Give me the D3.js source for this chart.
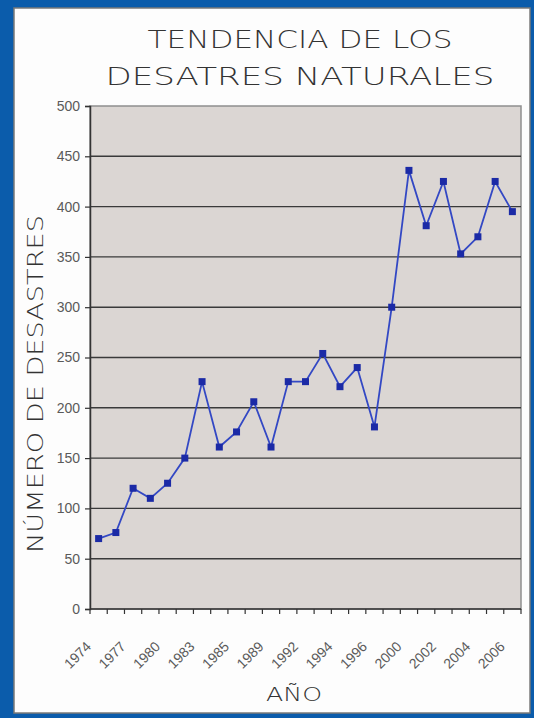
<!DOCTYPE html>
<html>
<head>
<meta charset="utf-8">
<script src="https://cdn.jsdelivr.net/npm/d3@7"></script>
<style>
  html, body { margin: 0; padding: 0; background: #0b5cab; }
  svg { display: block; }
</style>
</head>
<body>
<div id="chart"></div>
<script>
// categories shown on the x axis (25 points, every other one labelled)
const years = ['1974', '1976', '1977', '1979', '1980', '1981', '1983', '1984', '1985',
  '1987', '1989', '1990', '1992', '1993', '1994', '1995', '1996', '1998', '2000',
  '2001', '2002', '2003', '2004', '2005', '2006'];
// number of disasters
const disasters = [70, 76, 120, 110, 125, 150, 226, 161, 176, 206, 161, 226, 226,
  254, 221, 240, 181, 300, 436, 381, 425, 353, 370, 425, 395];
const yTicks = [0, 50, 100, 150, 200, 250, 300, 350, 400, 450, 500];
const titleLines = ['TENDENCIA DE LOS', 'DESATRES NATURALES'];

const width = 534;
const height = 718;
const margin = { top: 106, right: 13, bottom: 109, left: 90 };

const svg = d3.select('#chart')
  .append('svg')
  .attr('width', width)
  .attr('height', height);

// blue frame + white card
svg.append('rect')
  .attr('width', width).attr('height', height)
  .style('fill', '#0b5cab');
svg.append('rect')
  .attr('x', 14).attr('y', 8)
  .attr('width', 516).attr('height', 705)
  .style('fill', '#fdfdfd')
  .style('stroke', '#7a7a7a')
  .style('stroke-width', 1.5);

const x = d3.scaleBand()
  .domain(years)
  .range([margin.left, width - margin.right])
  .padding(0);

const y = d3.scaleLinear()
  .domain([0, 500])
  .range([height - margin.bottom, margin.top]);

// plot area
svg.append('rect')
  .attr('x', x.range()[0])
  .attr('y', y(500))
  .attr('width', x.range()[1] - x.range()[0])
  .attr('height', y(0) - y(500))
  .style('fill', '#dbd6d3')
  .style('stroke', '#8f8f8f')
  .style('stroke-width', 1.5);

// gridlines
svg.append('g')
  .selectAll('line')
  .data(yTicks.filter(d => d > 0 && d < 500))
  .join('line')
  .attr('x1', x.range()[0])
  .attr('x2', x.range()[1])
  .attr('y1', d => y(d))
  .attr('y2', d => y(d))
  .style('stroke', '#3a3a3a')
  .style('stroke-width', 1.4);

// y axis
const yAxis = svg.append('g')
  .attr('transform', `translate(${margin.left},0)`)
  .call(d3.axisLeft(y).tickValues(yTicks).tickSize(5).tickPadding(5));
yAxis.select('.domain').style('stroke', '#333').style('stroke-width', 1.5);
yAxis.selectAll('.tick line').style('stroke', '#333').style('stroke-width', 1.2);
yAxis.selectAll('.tick text')
  .style('font-family', '"Liberation Sans Narrow", "Liberation Sans", Arial, sans-serif')
  .style('font-size', '14px')
  .style('fill', '#5a5a5a');

// x axis: baseline, tick marks at category boundaries, rotated labels
const xAxis = svg.append('g')
  .attr('transform', `translate(0,${y(0)})`);
xAxis.append('line')
  .attr('x1', x.range()[0]).attr('x2', x.range()[1])
  .style('stroke', '#333').style('stroke-width', 1.5);
xAxis.selectAll('.xtick')
  .data(years.concat(['end']))
  .join('line')
  .attr('class', 'xtick')
  .attr('x1', (d, i) => x.range()[0] + i * x.step())
  .attr('x2', (d, i) => x.range()[0] + i * x.step())
  .attr('y1', 0).attr('y2', 5)
  .style('stroke', '#333').style('stroke-width', 1.2);
xAxis.selectAll('.xlabel')
  .data(years.filter((d, i) => i % 2 === 0))
  .join('text')
  .attr('class', 'xlabel')
  .attr('transform', d => `translate(${x(d) + x.bandwidth() / 2 - 10},${35}) rotate(-45)`)
  .attr('text-anchor', 'end')
  .attr('dy', '0.35em')
  .style('font-family', '"Liberation Sans Narrow", "Liberation Sans", Arial, sans-serif')
  .style('font-size', '14px')
  .style('fill', '#5a5a5a')
  .text(d => d);

// series line + square markers
const line = d3.line()
  .x((d, i) => x(years[i]) + x.bandwidth() / 2)
  .y(d => y(d));

svg.append('path')
  .datum(disasters)
  .attr('d', line)
  .style('fill', 'none')
  .style('stroke', '#3348c4')
  .style('stroke-width', 1.8);

svg.append('g')
  .selectAll('rect')
  .data(disasters)
  .join('rect')
  .attr('x', (d, i) => x(years[i]) + x.bandwidth() / 2 - 3.5)
  .attr('y', d => y(d) - 3.5)
  .attr('width', 7)
  .attr('height', 7)
  .style('fill', '#1b2aa6');

// titles
const titleFont = '"DejaVu Sans", Lato, sans-serif';
svg.selectAll('.title')
  .data(titleLines)
  .join('text')
  .attr('class', 'title')
  .attr('x', 300)
  .attr('y', (d, i) => 48 + i * 37)
  .attr('text-anchor', 'middle')
  .attr('textLength', (d, i) => i === 0 ? 305 : 389)
  .attr('lengthAdjust', 'spacingAndGlyphs')
  .style('font-family', titleFont)
  .style('font-weight', 200)
  .style('font-size', '25px')
  .style('fill', '#333')
  .text(d => d);

svg.append('text')
  .attr('transform', 'translate(43,384) rotate(-90)')
  .attr('text-anchor', 'middle')
  .attr('textLength', 338)
  .attr('lengthAdjust', 'spacingAndGlyphs')
  .style('font-family', titleFont)
  .style('font-weight', 200)
  .style('font-size', '21px')
  .style('fill', '#333')
  .text('NÚMERO DE DESASTRES');

svg.append('text')
  .attr('x', 294)
  .attr('y', 701)
  .attr('text-anchor', 'middle')
  .attr('textLength', 56)
  .attr('lengthAdjust', 'spacingAndGlyphs')
  .style('font-family', titleFont)
  .style('font-weight', 200)
  .style('font-size', '20px')
  .style('fill', '#333')
  .text('AÑO');
</script>
</body>
</html>
